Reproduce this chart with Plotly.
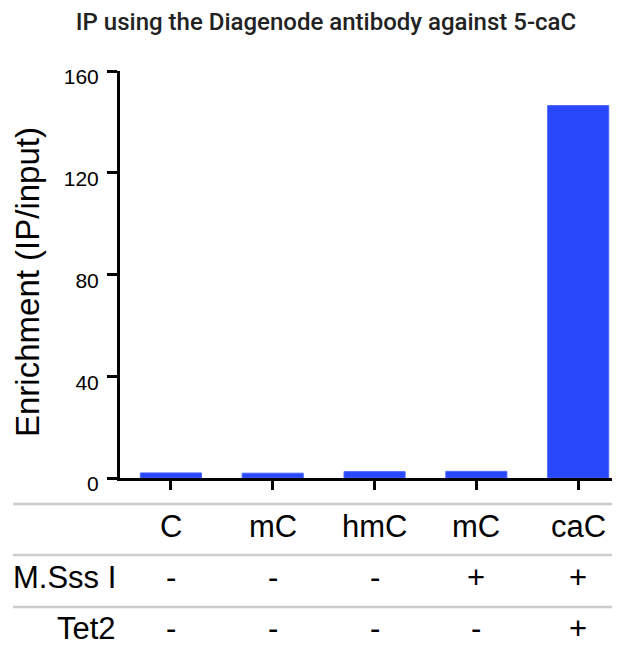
import plotly.graph_objects as go

# ---- data ----
samples = ["C", "mC", "hmC", "mC", "caC"]
enrichment = [2.0, 1.9, 2.5, 2.6, 146.4]
msss_row = ["-", "-", "-", "+", "+"]
tet2_row = ["-", "-", "-", "-", "+"]
row_labels = ["M.Sss I", "Tet2"]
y_ticks = [0, 40, 80, 120, 160]

# page body has an 8px margin: lay out in reference pixels minus that offset
OFF = 8
W, H = 620 - OFF, 657 - 2 * OFF
L, R, T = 120 - OFF, 0, 71 - OFF
B = H - (478 - OFF)
plot_h = H - T - B
plot_w = W - L - R

def py(p):  # reference pixel y -> paper y
    return (478 - p) / plot_h

def px(p):  # reference pixel x -> paper x
    return (p - 120) / plot_w

xpos = list(range(len(samples)))
FONT = "Liberation Sans, Arial, sans-serif"
TSIZE = 31

fig = go.Figure()
fig.add_trace(go.Bar(
    x=xpos, y=enrichment, width=0.6,
    marker=dict(color="#2a48fb", line=dict(color="#4b66ff", width=1)),
    hoverinfo="skip",
))

annotations = []
for row, yy in [(samples, 526), (msss_row, 577), (tet2_row, 628)]:
    for i, s in enumerate(row):
        annotations.append(dict(x=i, y=py(yy), xref="x", yref="paper", text=s, showarrow=False,
                                font=dict(family=FONT, size=TSIZE, color="#000"),
                                xanchor="center", yanchor="middle"))
for lab, yy in zip(row_labels, [577, 628]):
    annotations.append(dict(x=px(118), y=py(yy), xref="paper", yref="paper", text=lab, showarrow=False,
                            font=dict(family=FONT, size=TSIZE, color="#000"), xanchor="right", yanchor="middle"))
annotations.append(dict(x=px(27), y=py(282), xref="paper", yref="paper", text="Enrichment (IP/input)",
                        textangle=-90, showarrow=False, font=dict(family=FONT, size=33, color="#000"),
                        xanchor="center", yanchor="middle"))

shapes = []
for yy in [504, 555, 607]:
    shapes.append(dict(type="line", xref="paper", yref="paper", x0=px(13), x1=px(620), y0=py(yy), y1=py(yy),
                       line=dict(color="#cccccc", width=2.5)))

fig.update_layout(
    width=W, height=H,
    margin=dict(l=L, r=R, t=T, b=B),
    paper_bgcolor="white", plot_bgcolor="white",
    showlegend=False,
    title=dict(text="IP using the Diagenode antibody against 5-caC", x=(326 - OFF) / W, xref="container",
               xanchor="center", y=1 - (22 - OFF) / H, yref="container", yanchor="middle",
               font=dict(family="Roboto, sans-serif", size=24, color="#222", weight=500)),
    xaxis=dict(range=[-0.5, (620 - 171) / 101.8], tickvals=xpos, showticklabels=False,
               ticks="outside", ticklen=9, tickwidth=3, tickcolor="#000",
               showline=True, linewidth=3, linecolor="#000", showgrid=False, zeroline=False, fixedrange=True),
    yaxis=dict(range=[0, 160], tickvals=y_ticks, ticks="outside", ticklen=10, tickwidth=3, tickcolor="#000",
               showline=True, linewidth=3, linecolor="#000", showgrid=False, zeroline=False,
               tickfont=dict(family=FONT, size=21, color="#000"), ticklabelshift=6, ticklabelstandoff=4,
               fixedrange=True),
    annotations=annotations,
    shapes=shapes,
)

fig.write_html("out.html", config={"displayModeBar": False})
